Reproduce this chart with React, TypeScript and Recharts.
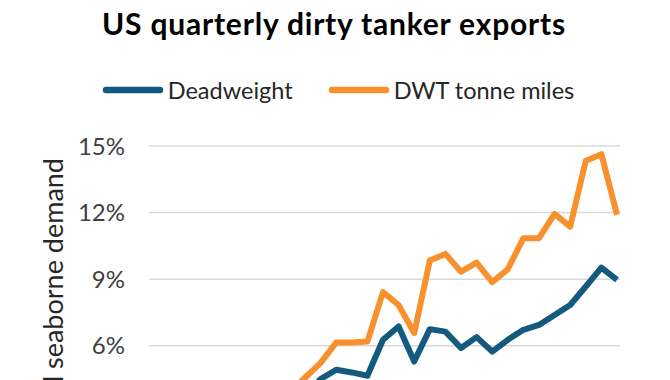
import { LineChart, Line, XAxis, YAxis, CartesianGrid, Label } from 'recharts';

// quarterly points, oldest first (first ten sit below the visible crop)
const QUARTERS = [
  '1Q16', '2Q16', '3Q16', '4Q16', '1Q17', '2Q17', '3Q17', '4Q17',
  '1Q18', '2Q18', '3Q18', '4Q18', '1Q19', '2Q19', '3Q19', '4Q19',
  '1Q20', '2Q20', '3Q20', '4Q20', '1Q21', '2Q21', '3Q21', '4Q21',
  '1Q22', '2Q22', '3Q22', '4Q22', '1Q23', '2Q23', '3Q23',
];
const DEADWEIGHT = [
  0.6, 0.8, 1.0, 1.3, 1.6, 1.5, 2.0, 2.4, 2.6, 3.0, 3.7, 4.5, 4.92, 4.8, 4.65, 6.27,
  6.87, 5.29, 6.75, 6.64, 5.9, 6.39, 5.74, 6.27, 6.72, 6.94, 7.39, 7.84, 8.67, 9.52, 8.97,
];
const TONNE_MILES = [
  0.9, 1.2, 1.6, 2.0, 2.5, 2.3, 3.0, 3.5, 3.7, 3.9, 4.56, 5.23, 6.15, 6.15, 6.19, 8.42,
  7.84, 6.57, 9.84, 10.14, 9.34, 9.75, 8.87, 9.45, 10.85, 10.85, 11.94, 11.37, 14.34, 14.63, 11.9,
];
const Y_TICKS = [0, 3, 6, 9, 12, 15];

const BLUE = '#135A7E';
const ORANGE = '#F7902D';
const FONT = 'Lato, "Open Sans", sans-serif';

const SERIES = [
  { key: 'dwt', name: 'Deadweight', color: BLUE },
  { key: 'tm', name: 'DWT tonne miles', color: ORANGE },
];

const data = QUARTERS.map((q, i) => ({ q, dwt: DEADWEIGHT[i], tm: TONNE_MILES[i] }));

function YLabel({ viewBox }: any) {
  const x = viewBox.x + 63;
  const y = viewBox.y + 12;
  return (
    <text
      x={x}
      y={y}
      transform={`rotate(-90 ${x} ${y})`}
      textAnchor="end"
      fontSize={27}
      fill="#262626"
      fontFamily={FONT}
    >
      Share of global seaborne demand
    </text>
  );
}

export default function App() {
  return (
    <div
      style={{
        position: 'absolute',
        left: 0,
        top: 0,
        width: 670,
        height: 380,
        overflow: 'hidden',
        background: '#fff',
        fontFamily: FONT,
      }}
    >
      <div
        style={{
          position: 'absolute',
          top: 5,
          left: 0,
          width: 668,
          textAlign: 'center',
          fontSize: 30,
          fontWeight: 700,
          letterSpacing: 0.8,
          color: '#000',
          lineHeight: '36px',
        }}
      >
        US quarterly dirty tanker exports
      </div>
      <div
        style={{
          position: 'absolute',
          top: 77,
          left: 3,
          width: 670,
          height: 26,
          display: 'flex',
          alignItems: 'center',
          justifyContent: 'center',
          gap: 35,
          fontSize: 23.5,
          color: '#262626',
        }}
      >
        {SERIES.map((s) => (
          <div key={s.key} style={{ display: 'flex', alignItems: 'center', gap: 4 }}>
            <svg width={62} height={8}>
              <line x1={4} y1={4} x2={58} y2={4} stroke={s.color} strokeWidth={6.5} strokeLinecap="round" />
            </svg>
            <span style={{ lineHeight: '26px' }}>{s.name}</span>
          </div>
        ))}
      </div>
      <LineChart
        width={670}
        height={559}
        data={data}
        margin={{ top: 146, right: 50, bottom: 50, left: 0 }}
      >
        <CartesianGrid vertical={false} stroke="#d9d9d9" strokeWidth={1.5} />
        <XAxis
          dataKey="q"
          height={30}
          padding={{ left: 0, right: 3 }}
          tick={{ fontSize: 22, fill: '#404040', fontFamily: FONT }}
          axisLine={{ stroke: '#d9d9d9', strokeWidth: 1.5 }}
          tickLine={false}
          interval={3}
        />
        <YAxis
          width={149}
          domain={[0, 15]}
          ticks={Y_TICKS}
          tickFormatter={(v) => `${v}%`}
          tick={{ fontSize: 24, fill: '#404040', fontFamily: FONT }}
          axisLine={false}
          tickLine={false}
          tickSize={0}
          tickMargin={24}
        >
          <Label content={YLabel} />
        </YAxis>
        {SERIES.map((s) => (
          <Line
            key={s.key}
            dataKey={s.key}
            name={s.name}
            stroke={s.color}
            strokeWidth={6}
            strokeLinejoin="round"
            dot={false}
            isAnimationActive={false}
          />
        ))}
      </LineChart>
    </div>
  );
}
